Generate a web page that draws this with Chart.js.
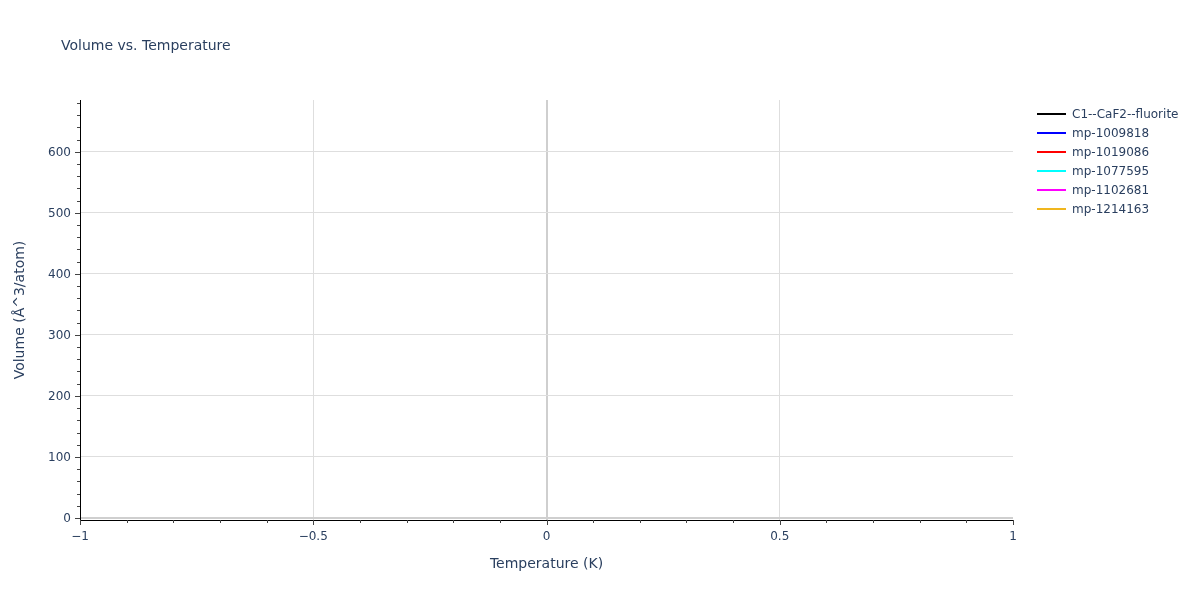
<!DOCTYPE html>
<html>
<head>
<meta charset="utf-8">
<script src="https://cdn.jsdelivr.net/npm/chart.js@4.4.1/dist/chart.umd.min.js"></script>
<style>
  html, body { margin: 0; padding: 0; background: #fff; }
  #wrap { width: 1200px; height: 600px; position: relative; }
</style>
</head>
<body>
<div id="wrap"><canvas id="c" width="1200" height="600"></canvas></div>
<script>
// ---- data ----
const chartTitle = "Volume vs. Temperature";
const xTitle = "Temperature (K)";
const yTitle = "Volume (Å^3/atom)";
const seriesNames = ["C1--CaF2--fluorite", "mp-1009818", "mp-1019086", "mp-1077595", "mp-1102681", "mp-1214163"];
const seriesColors = ["#000000", "#0000ff", "#ff0000", "#00ffff", "#ff00ff", "#f0b61e"];
// no data points are visible in the reference
const seriesC1 = [];
const series1009818 = [];
const series1019086 = [];
const series1077595 = [];
const series1102681 = [];
const series1214163 = [];
const seriesValues = [seriesC1, series1009818, series1019086, series1077595, series1102681, series1214163];
const xMajorTicks = [-1, -0.5, 0, 0.5, 1];
const xMajorLabels = ["\u22121", "\u22120.5", "0", "0.5", "1"];
const xMinorStep = 0.1;
const yMajorTicks = [0, 100, 200, 300, 400, 500, 600];
const yMajorLabels = ["0", "100", "200", "300", "400", "500", "600"];
const yMinorStep = 20;
const xRange = [-1, 1];
const yRange = [-3.4, 685];

const textColor = "#2a3f5f";
const fontFamily = "'DejaVu Sans', Verdana, sans-serif";

function isMajor(v, majors) { return majors.some(m => Math.abs(m - v) < 1e-9); }
function buildTicks(min, max, step) {
  const out = [];
  const start = Math.ceil(min / step - 1e-9);
  const end = Math.floor(max / step + 1e-9);
  for (let i = start; i <= end; i++) out.push(Math.round(i * step * 1e6) / 1e6);
  return out;
}
const xTickValues = buildTicks(xRange[0], xRange[1], xMinorStep);
const yTickValues = buildTicks(yRange[0], yRange[1], yMinorStep);

const titleLegendPlugin = {
  id: 'titleLegend',
  afterDraw(chart) {
    const ctx = chart.ctx;
    ctx.save();
    ctx.fillStyle = textColor;
    ctx.font = "14px " + fontFamily;
    ctx.textBaseline = 'middle';
    ctx.textAlign = 'left';
    ctx.fillText(chartTitle, 61, 46);
    ctx.font = "12px " + fontFamily;
    chart.data.datasets.forEach((ds, i) => {
      const y = 114 + i * 19;
      ctx.strokeStyle = ds.borderColor;
      ctx.lineWidth = 2;
      ctx.beginPath();
      ctx.moveTo(1037, y);
      ctx.lineTo(1066, y);
      ctx.stroke();
      ctx.fillStyle = textColor;
      ctx.fillText(ds.label, 1072, y + 1);
    });
    ctx.restore();
  }
};

const tickMarkPlugin = {
  id: 'tickMarks',
  afterDraw(chart) {
    const ctx = chart.ctx;
    const xs = chart.scales.x, ys = chart.scales.y;
    const area = chart.chartArea;
    ctx.save();
    ctx.strokeStyle = '#444';
    ctx.lineWidth = 1;
    xs.ticks.forEach(t => {
      const px = Math.round(xs.getPixelForValue(t.value)) + 0.5;
      const len = isMajor(t.value, xMajorTicks) ? 5 : 3;
      ctx.beginPath();
      ctx.moveTo(px, area.bottom);
      ctx.lineTo(px, area.bottom + len);
      ctx.stroke();
    });
    ys.ticks.forEach(t => {
      const py = Math.round(ys.getPixelForValue(t.value)) + 0.5;
      const len = isMajor(t.value, yMajorTicks) ? 5 : 3;
      ctx.beginPath();
      ctx.moveTo(area.left, py);
      ctx.lineTo(area.left - len, py);
      ctx.stroke();
    });
    ctx.restore();
  }
};

new Chart(document.getElementById('c'), {
  type: 'line',
  data: {
    datasets: seriesNames.map((name, i) => ({
      label: name,
      data: seriesValues[i],
      borderColor: seriesColors[i],
      backgroundColor: seriesColors[i],
      borderWidth: 2,
      pointRadius: 0,
      fill: false
    }))
  },
  options: {
    responsive: false,
    animation: false,
    devicePixelRatio: 1,
    layout: { padding: { left: 0, top: 100, right: 187, bottom: 0 } },
    plugins: { legend: { display: false }, title: { display: false }, tooltip: { enabled: false } },
    scales: {
      x: {
        type: 'linear',
        min: xRange[0],
        max: xRange[1],
        afterBuildTicks(scale) { scale.ticks = xTickValues.map(v => ({ value: v })); },
        afterFit(scale) { scale.height = 80; },
        ticks: {
          autoSkip: false,
          maxRotation: 0,
          padding: 10,
          color: textColor,
          font: { family: fontFamily, size: 12 },
          callback(v) {
            const k = xMajorTicks.findIndex(m => Math.abs(m - v) < 1e-9);
            return k >= 0 ? xMajorLabels[k] : '';
          }
        },
        grid: {
          drawTicks: false,
          color(ctx) {
            const v = ctx.tick ? ctx.tick.value : NaN;
            if (Math.abs(v) < 1e-9) return '#cfcfcf';
            if (Math.abs(v - xRange[0]) < 1e-9 || Math.abs(v - xRange[1]) < 1e-9) return 'rgba(0,0,0,0)';
            return isMajor(v, xMajorTicks) ? '#dedede' : 'rgba(0,0,0,0)';
          },
          lineWidth(ctx) {
            const v = ctx.tick ? ctx.tick.value : NaN;
            return Math.abs(v) < 1e-9 ? 2 : 1;
          }
        },
        border: { display: true, color: '#000', width: 1 },
        title: {
          display: true,
          text: xTitle,
          color: textColor,
          font: { family: fontFamily, size: 14 },
          padding: { top: 0, bottom: 27 }
        }
      },
      y: {
        type: 'linear',
        min: yRange[0],
        max: yRange[1],
        afterBuildTicks(scale) { scale.ticks = yTickValues.map(v => ({ value: v })); },
        afterFit(scale) { scale.width = 80; },
        ticks: {
          autoSkip: false,
          padding: 9,
          labelOffset: 1,
          color: textColor,
          font: { family: fontFamily, size: 12 },
          callback(v) {
            const k = yMajorTicks.findIndex(m => Math.abs(m - v) < 1e-9);
            return k >= 0 ? yMajorLabels[k] : '';
          }
        },
        grid: {
          drawTicks: false,
          color(ctx) {
            const v = ctx.tick ? ctx.tick.value : NaN;
            if (Math.abs(v) < 1e-9) return '#cfcfcf';
            return isMajor(v, yMajorTicks) ? '#dedede' : 'rgba(0,0,0,0)';
          },
          lineWidth(ctx) {
            const v = ctx.tick ? ctx.tick.value : NaN;
            return Math.abs(v) < 1e-9 ? 2 : 1;
          }
        },
        border: { display: true, color: '#000', width: 1 },
        title: {
          display: true,
          text: yTitle,
          color: textColor,
          font: { family: fontFamily, size: 14 },
          padding: { top: 12, bottom: 0 }
        }
      }
    }
  },
  plugins: [titleLegendPlugin, tickMarkPlugin]
});
</script>
</body>
</html>
